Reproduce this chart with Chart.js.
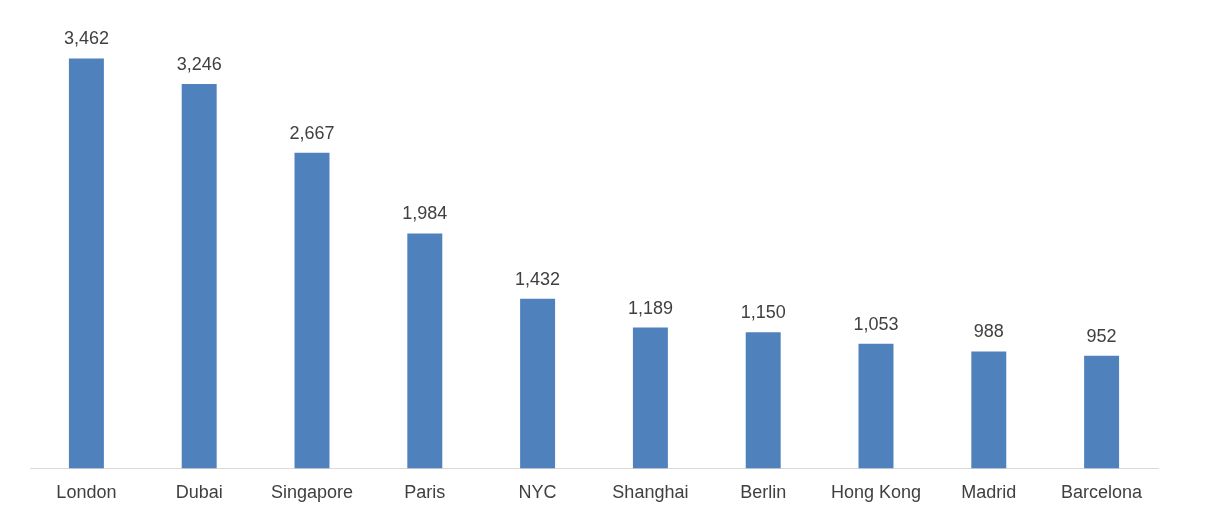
<!DOCTYPE html>
<html lang="en">
<head>
<meta charset="UTF-8">
<title>Cities</title>
<script src="https://cdn.jsdelivr.net/npm/chart.js"></script>
<style>
    body { margin: 0; background: #fff; }
    .wrap { width: 1208px; height: 528px; position: relative; }
</style>
</head>
<body>
<div class="wrap"><canvas id="cityChart"></canvas></div>
<script>
const cities = ['London', 'Dubai', 'Singapore', 'Paris', 'NYC', 'Shanghai', 'Berlin', 'Hong Kong', 'Madrid', 'Barcelona'];
const counts = [3462, 3246, 2667, 1984, 1432, 1189, 1150, 1053, 988, 952];

// draw the number above each bar
const valueLabels = {
    id: 'valueLabels',
    afterDatasetsDraw(chart) {
        const ctx = chart.ctx;
        const meta = chart.getDatasetMeta(0);
        ctx.save();
        ctx.font = '18px "Liberation Sans", Arial, sans-serif';
        ctx.fillStyle = '#404040';
        ctx.textAlign = 'center';
        ctx.textBaseline = 'bottom';
        meta.data.forEach((bar, i) => {
            ctx.fillText(counts[i].toLocaleString('en-US'), bar.x, bar.y - 10);
        });
        ctx.restore();
    }
};

new Chart(document.getElementById('cityChart'), {
    type: 'bar',
    data: {
        labels: cities,
        datasets: [{
            data: counts,
            backgroundColor: '#4F81BD',
            categoryPercentage: 1,
            barPercentage: 0.31
        }]
    },
    options: {
        responsive: true,
        maintainAspectRatio: false,
        animation: false,
        layout: { padding: { left: 30, right: 50, top: 54, bottom: 18 } },
        plugins: { legend: { display: false }, tooltip: { enabled: false } },
        scales: {
            x: {
                grid: { display: false },
                border: { color: '#d9d9d9', width: 1 },
                ticks: {
                    color: '#404040',
                    padding: 6,
                    font: { family: '"Liberation Sans", Arial, sans-serif', size: 18 }
                }
            },
            y: {
                display: false,
                min: 0,
                max: 3500
            }
        }
    },
    plugins: [valueLabels]
});
</script>
</body>
</html>
